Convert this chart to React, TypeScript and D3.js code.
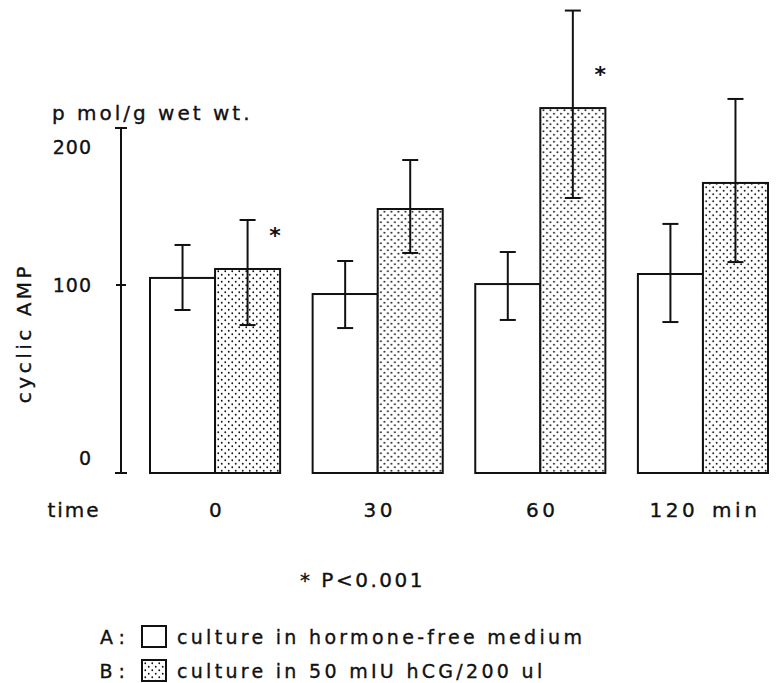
import React from "react";
import * as d3 from "d3";

const categories = ["0", "30", "60", "120 min"];
const series = ["A", "B"];
const meanA = [104.5, 95.2, 100.6, 107];
const meanB = [110.2, 148.4, 212.7, 165];
const lowA = [86.7, 77.1, 81.4, 80.3];
const highA = [125.5, 115.3, 121, 138.9];
const lowB = [78.7, 120.4, 155.4, 114.6];
const highB = [141.4, 179.6, 274.8, 218.5];
const significant = [true, false, true, false];
const yTicks = [0, 100, 200];
const legendLabels = [
  "culture in hormone-free medium",
  "culture in 50 mIU hCG/200 ul",
];

const FONT = "'DejaVu Sans', sans-serif";
const txt = { fill: "#111", stroke: "#111", strokeWidth: 0.35 };

export default function App() {
  const W = 778;
  const H = 683;
  // polylinear scale following the hand-drawn axis
  const y = d3.scaleLinear().domain([0, 100, 200]).range([473, 285, 128]);
  const x = d3
    .scaleBand<string>()
    .domain(categories)
    .range([150, 768])
    .paddingInner(0.2)
    .paddingOuter(0);
  const xs = d3
    .scaleBand<string>()
    .domain(series)
    .range([0, x.bandwidth()])
    .padding(0);

  const data = categories.map((c, i) => ({
    c,
    bars: [
      { s: "A", v: meanA[i], lo: lowA[i], hi: highA[i] },
      { s: "B", v: meanB[i], lo: lowB[i], hi: highB[i] },
    ],
    sig: significant[i],
  }));

  const axisX = 121;
  const labelY = (v: number) => Math.min(Math.max(y(v), 147), 458);

  return (
    <svg
      width={W}
      height={H}
      style={{ position: "absolute", left: 0, top: 0, background: "#fff" }}
      fontFamily={FONT}
    >
      <defs>
        <pattern id="dots" width={7} height={7} patternUnits="userSpaceOnUse">
          <rect width={7} height={7} fill="#fff" />
          <circle cx={1.75} cy={1.75} r={0.9} fill="#111" />
          <circle cx={5.25} cy={5.25} r={0.9} fill="#111" />
        </pattern>
      </defs>

      {/* y axis */}
      <line x1={axisX} x2={axisX} y1={y(200)} y2={y(0)} stroke="#111" strokeWidth={2} />
      <line x1={axisX - 6} x2={axisX + 6} y1={y(200)} y2={y(200)} stroke="#111" strokeWidth={2} />
      <line x1={axisX - 6} x2={axisX + 6} y1={y(0)} y2={y(0)} stroke="#111" strokeWidth={2} />
      <line x1={axisX - 5} x2={axisX + 5} y1={y(100)} y2={y(100)} stroke="#111" strokeWidth={2} />
      {yTicks.map((t) => (
        <text
          key={t}
          x={92}
          y={labelY(t)}
          textAnchor="end"
          dominantBaseline="central"
          fontSize={19}
          letterSpacing={1}
          {...txt}
        >
          {t}
        </text>
      ))}
      <text x={52} y={120} fontSize={20} letterSpacing={3} {...txt}>
        p mol/g wet wt.
      </text>
      <text
        transform={`translate(31,333) rotate(-90)`}
        textAnchor="middle"
        fontSize={20}
        letterSpacing={3.5}
        {...txt}
      >
        cyclic AMP
      </text>

      {/* bars */}
      {data.map((g) => (
        <g key={g.c} transform={`translate(${x(g.c)},0)`}>
          {g.bars.map((b) => (
            <rect
              key={b.s}
              x={xs(b.s)}
              y={y(b.v)}
              width={xs.bandwidth()}
              height={y(0) - y(b.v)}
              fill={b.s === "A" ? "#fff" : "url(#dots)"}
              stroke="#111"
              strokeWidth={2}
            />
          ))}
          {g.bars.map((b) => {
            const cx = (xs(b.s) as number) + xs.bandwidth() / 2;
            return (
              <g key={"e" + b.s} stroke="#111" strokeWidth={2}>
                <line x1={cx} x2={cx} y1={y(b.lo)} y2={y(b.hi)} />
                <line x1={cx - 8} x2={cx + 8} y1={y(b.lo)} y2={y(b.lo)} />
                <line x1={cx - 8} x2={cx + 8} y1={y(b.hi)} y2={y(b.hi)} />
              </g>
            );
          })}
          {g.sig && (
            <text
              x={x.bandwidth() - 5}
              y={y(g.bars[1].v) - 26}
              fontSize={22}
              fontWeight="bold"
              fill="#111"
              textAnchor="middle"
            >
              *
            </text>
          )}
        </g>
      ))}

      {/* x labels */}
      <text x={74} y={510} textAnchor="middle" dominantBaseline="central" fontSize={20} letterSpacing={2} {...txt}>
        time
      </text>
      {categories.map((c) => (
        <text
          key={c}
          x={(x(c) as number) + x.bandwidth() / 2 + 2}
          y={510}
          textAnchor="middle"
          dominantBaseline="central"
          fontSize={20}
          letterSpacing={3.5}
          wordSpacing={4}
          {...txt}
        >
          {c}
        </text>
      ))}

      <text x={300} y={580} dominantBaseline="central" fontSize={20} letterSpacing={2.5} {...txt}>
        * P&lt;0.001
      </text>

      {/* legend */}
      {series.map((s, i) => {
        const ly = 637 + i * 34;
        return (
          <g key={s}>
            <text x={131} y={ly} textAnchor="end" dominantBaseline="central" fontSize={19} letterSpacing={6} {...txt}>
              {s}:
            </text>
            <rect
              x={142}
              y={ly - 11}
              width={24}
              height={21}
              fill={i === 0 ? "#fff" : "url(#dots)"}
              stroke="#111"
              strokeWidth={2}
            />
            <text x={177} y={ly} dominantBaseline="central" fontSize={19} letterSpacing={3.3} {...txt}>
              {legendLabels[i]}
            </text>
          </g>
        );
      })}
    </svg>
  );
}
